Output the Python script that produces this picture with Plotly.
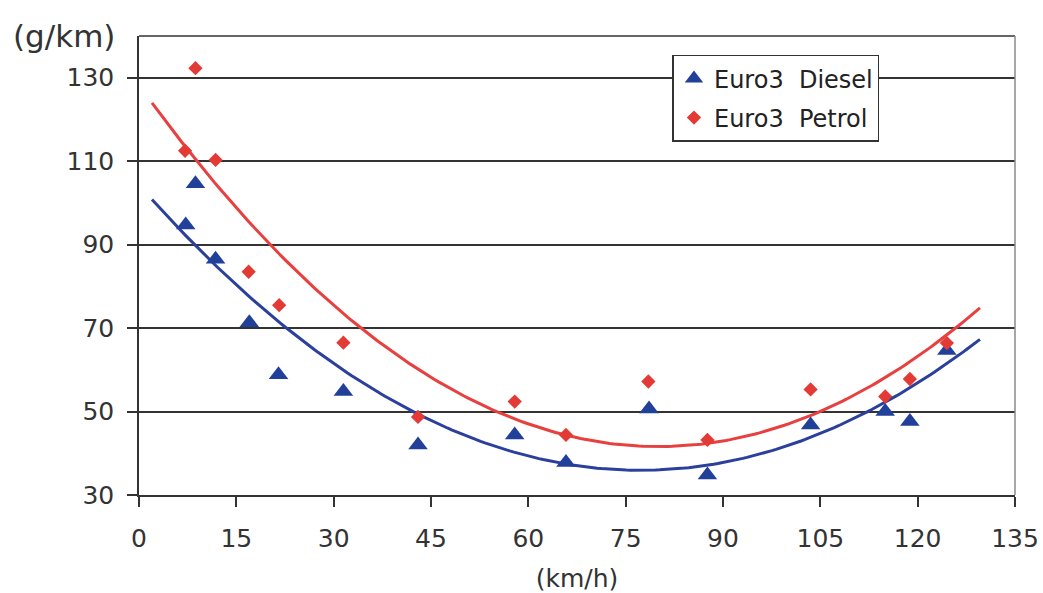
import numpy as np
import plotly.graph_objects as go

# Emission measurements by average speed
diesel_speed = [7.2, 8.7, 11.8, 17.0, 21.5, 31.5, 43.0, 57.9, 65.8, 78.6, 87.6, 103.5, 115.0, 118.8, 124.5]
diesel_emission = [94.7, 104.6, 86.5, 71.3, 58.8, 54.8, 42.0, 44.4, 37.8, 50.6, 34.8, 46.8, 50.0, 47.6, 64.6]
petrol_speed = [7.1, 8.7, 11.8, 16.9, 21.6, 31.5, 43.0, 57.9, 65.8, 78.5, 87.6, 103.5, 115.0, 118.8, 124.5]
petrol_emission = [112.5, 132.3, 110.3, 83.5, 75.5, 66.5, 48.7, 52.4, 44.4, 57.2, 43.2, 55.3, 53.6, 57.8, 66.4]

x_ticks = [0, 15, 30, 45, 60, 75, 90, 105, 120, 135]
y_ticks = [30, 50, 70, 90, 110, 130]

# span of the quadratic trendlines
fit_start, fit_end = 2.0, 129.6

BLUE = "#21409a"
RED = "#e33a36"
FONT = "DejaVu Sans"
TEXT = "#333333"


def trend(xs, ys):
    coef = np.polyfit(xs, ys, 2)
    xx = np.linspace(fit_start, fit_end, 200)
    return xx, np.polyval(coef, xx)


fig = go.Figure()

dx, dy = trend(diesel_speed, diesel_emission)
px_, py_ = trend(petrol_speed, petrol_emission)

fig.add_trace(go.Scatter(x=dx, y=dy, mode="lines", line=dict(color="#2b3f9c", width=3),
                         showlegend=False, hoverinfo="skip"))
fig.add_trace(go.Scatter(x=px_, y=py_, mode="lines", line=dict(color="#e8403f", width=3),
                         showlegend=False, hoverinfo="skip"))

fig.add_trace(go.Scatter(x=diesel_speed, y=diesel_emission, mode="markers",
                         name="Euro3\u00a0\u00a0Diesel", legendgroup="d",
                         marker=dict(symbol="triangle-up", size=17, color=BLUE)))
fig.add_trace(go.Scatter(x=petrol_speed, y=petrol_emission, mode="markers",
                         name="Euro3\u00a0\u00a0Petrol", legendgroup="p",
                         marker=dict(symbol="diamond", size=11, color=RED)))

fig.update_layout(
    width=1043, height=593,
    margin=dict(l=139, r=28, t=36, b=98, autoexpand=False),
    paper_bgcolor="white", plot_bgcolor="white",
    font=dict(family=FONT, size=25, color=TEXT),
    showlegend=True,
    legend=dict(x=0.609, y=0.959, xanchor="left", yanchor="top",
                bgcolor="white", bordercolor="#333333", borderwidth=1.5,
                font=dict(family=FONT, size=24, color="#222222"),
                itemwidth=30, tracegroupgap=5),
    xaxis=dict(range=[0, 135], tickvals=x_ticks, ticktext=[str(v) for v in x_ticks],
               automargin=False,
               showgrid=False, zeroline=False, showline=True, linecolor="#333333", linewidth=1.5,
               ticks="outside", ticklen=10, tickwidth=1.5, tickcolor="#333333",
               tickfont=dict(size=25, color=TEXT), ticklabelstandoff=10,
               title=dict(text="(km/h)", font=dict(size=25, color=TEXT), standoff=18)),
    yaxis=dict(range=[30, 140], tickvals=y_ticks, ticktext=[str(v) for v in y_ticks],
               automargin=False,
               showgrid=True, gridcolor="#333333", gridwidth=1.5,
               zeroline=False, showline=True, linecolor="#333333", linewidth=1.5,
               ticks="outside", ticklen=10, tickwidth=1.5, tickcolor="#333333",
               tickfont=dict(size=25, color=TEXT), ticklabelstandoff=8),
)

# frame: dark top edge, lighter right edge
fig.add_shape(type="line", xref="paper", yref="paper", x0=0, x1=1, y0=1, y1=1,
              line=dict(color="#333333", width=1.5))
fig.add_shape(type="line", xref="paper", yref="paper", x0=1, x1=1, y0=0, y1=1,
              line=dict(color="#8a8a8a", width=1.5))

fig.add_annotation(text="(g/km)", xref="paper", yref="paper", x=-0.146, y=1.0,
                   xanchor="left", yanchor="middle", showarrow=False,
                   font=dict(family=FONT, size=31, color=TEXT))

fig.write_html("out.html")
